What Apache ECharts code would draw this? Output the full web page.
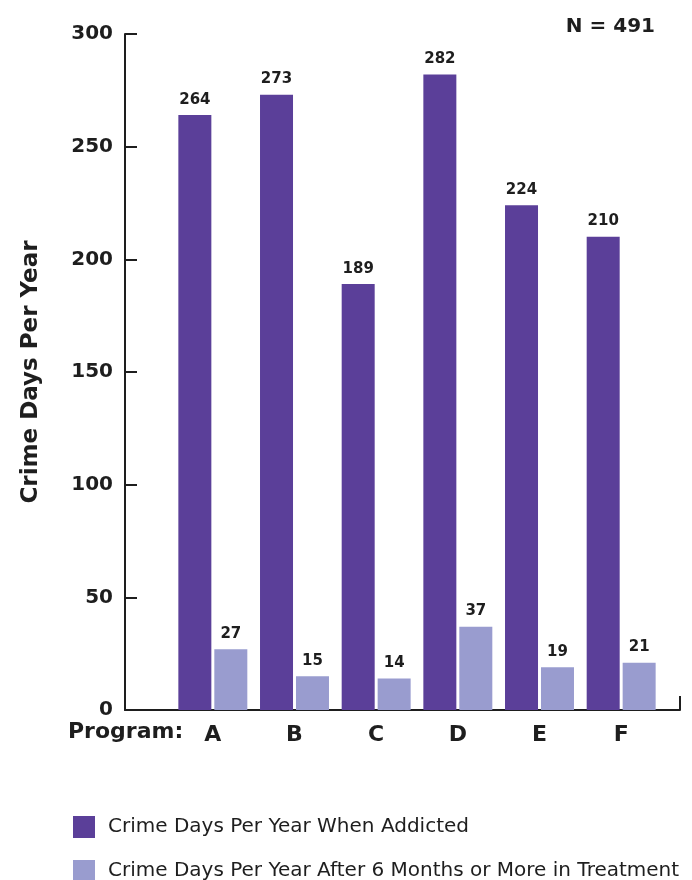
<!DOCTYPE html>
<html>
<head>
<meta charset="utf-8">
<script src="https://cdn.jsdelivr.net/npm/echarts@6/dist/echarts.min.js"></script>
<style>
  html, body { margin: 0; padding: 0; background: #ffffff; }
  #chart { width: 692px; height: 880px; }
</style>
</head>
<body>
<div id="chart"></div>
<script>
// Crime days per year, by treatment program
const programs = ['A', 'B', 'C', 'D', 'E', 'F'];
const whenAddicted = [264, 273, 189, 282, 224, 210];
const afterTreatment = [27, 15, 14, 37, 19, 21];
const seriesNames = [
  'Crime Days Per Year When Addicted',
  'Crime Days Per Year After 6 Months or More in Treatment'
];
const yTicks = { min: 0, max: 300, interval: 50 };
const sampleNote = 'N = 491';

const FONT = 'DejaVu Sans';
const INK = '#1e1e1e';
const DARK = '#5b3f99';
const LIGHT = '#999ccf';

const chart = echarts.init(document.getElementById('chart'), null, { renderer: 'canvas' });

const valueLabel = {
  show: true,
  position: 'top',
  distance: 8,
  color: INK,
  fontFamily: FONT,
  fontWeight: 'bold',
  fontSize: 15
};

// one legend block per series, stacked vertically
const legendBlock = (name, top) => ({
  left: 68,
  top: top,
  itemWidth: 22,
  itemHeight: 22,
  icon: 'rect',
  data: [name],
  selectedMode: false,
  textStyle: { fontFamily: FONT, fontSize: 20, color: INK, padding: [0, 0, 0, 8] }
});

chart.setOption({
  backgroundColor: '#ffffff',
  animation: false,
  title: {
    text: sampleNote,
    right: 32,
    top: 12,
    textStyle: { fontFamily: FONT, fontWeight: 'bold', fontSize: 20, color: INK }
  },
  graphic: [{
    type: 'text',
    left: 68,
    top: 721,
    style: { text: 'Program:', fontFamily: FONT, fontWeight: 'bold', fontSize: 22, fill: INK }
  }],
  legend: [
    legendBlock(seriesNames[0], 811),
    legendBlock(seriesNames[1], 855)
  ],
  grid: [
    // frame grid: carries the drawn axis lines
    { left: 125, right: 12, top: 34, bottom: 170 },
    // bar grid: category bands
    { left: 172, right: 30, top: 34, bottom: 170 }
  ],
  xAxis: [
    {
      gridIndex: 0,
      type: 'value',
      min: 0, max: 1, interval: 1,
      axisLine: { show: true, lineStyle: { color: INK, width: 2 } },
      axisTick: { show: true, inside: true, length: 14, lineStyle: { color: INK, width: 2 } },
      axisLabel: { show: false },
      splitLine: { show: false }
    },
    {
      gridIndex: 1,
      type: 'category',
      data: programs,
      axisLine: { show: false },
      axisTick: { show: false },
      axisLabel: {
        margin: 14,
        color: INK,
        fontFamily: FONT,
        fontWeight: 'bold',
        fontSize: 22
      }
    }
  ],
  yAxis: [
    {
      gridIndex: 0,
      type: 'value',
      min: yTicks.min, max: yTicks.max, interval: yTicks.interval,
      name: 'Crime Days Per Year',
      nameLocation: 'middle',
      nameRotate: 90,
      nameGap: 82,
      nameTextStyle: { fontFamily: FONT, fontWeight: 'bold', fontSize: 23, color: INK },
      axisLine: { show: true, lineStyle: { color: INK, width: 2 } },
      axisTick: { show: true, inside: true, length: 12, lineStyle: { color: INK, width: 2 } },
      axisLabel: {
        margin: 12,
        color: INK,
        fontFamily: FONT,
        fontWeight: 'bold',
        fontSize: 20
      },
      splitLine: { show: false }
    },
    {
      gridIndex: 1,
      type: 'value',
      min: yTicks.min, max: yTicks.max, interval: yTicks.interval,
      show: false,
      splitLine: { show: false }
    }
  ],
  series: [
    {
      name: seriesNames[0],
      type: 'bar',
      xAxisIndex: 1,
      yAxisIndex: 1,
      data: whenAddicted,
      barWidth: 33,
      barGap: '9%',
      itemStyle: { color: DARK },
      label: valueLabel
    },
    {
      name: seriesNames[1],
      type: 'bar',
      xAxisIndex: 1,
      yAxisIndex: 1,
      data: afterTreatment,
      barWidth: 33,
      barGap: '9%',
      itemStyle: { color: LIGHT },
      label: valueLabel
    }
  ]
});
</script>
</body>
</html>
